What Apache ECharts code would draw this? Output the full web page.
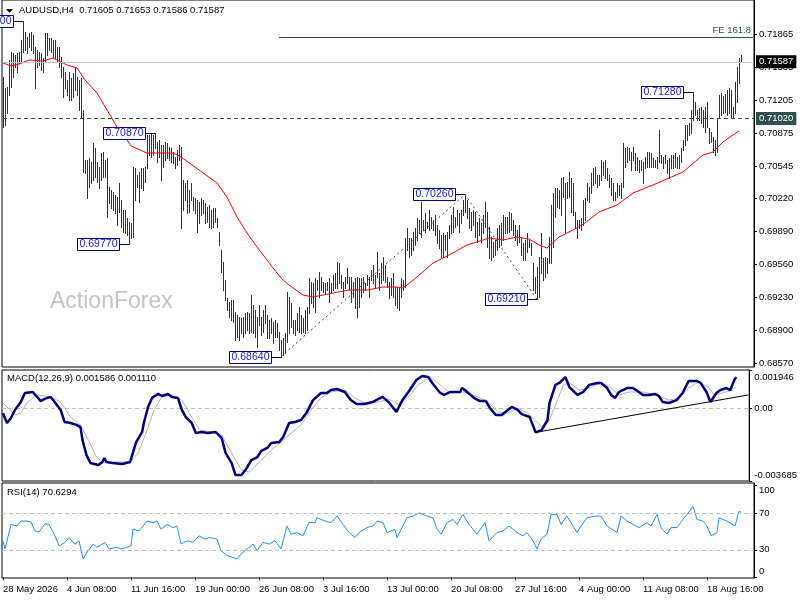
<!DOCTYPE html>
<html><head><meta charset="utf-8">
<script src="https://cdn.jsdelivr.net/npm/echarts@6/dist/echarts.min.js"></script>
<style>html,body{margin:0;padding:0;background:#fff}#c{width:800px;height:600px}</style>
</head><body><div id="c"></div>
<script>
const FONT = "'Liberation Sans', Arial, sans-serif";
const symbolTitle = 'AUDUSD,H4  0.71605 0.71653 0.71586 0.71587';
const macdTitle = 'MACD(12,26,9) 0.001586 0.001110';
const rsiTitle = 'RSI(14) 70.6294';
const watermark = 'ActionForex';
const dateLabels = ['28 May 2026','4 Jun 08:00','11 Jun 16:00','19 Jun 00:00','26 Jun 08:00','3 Jul 16:00','13 Jul 00:00','20 Jul 08:00','27 Jul 16:00','4 Aug 00:00','11 Aug 08:00','18 Aug 16:00'];
const barsPerLabel = 32;
const slotCount = 376;
const priceTicks = [0.68570,0.68900,0.69230,0.69560,0.69890,0.70220,0.70545,0.70875,0.71205,0.71535,0.71865];
const macdTicks = [0.001946, 0, -0.003685];
const rsiTicks = [0, 30, 70, 100];
const rsiLevels = [30, 70];

const high = [0.71435,0.71325,0.71335,0.71605,0.71685,0.71675,0.71655,0.71675,0.71685,0.71805,
0.72000,0.71885,0.71835,0.71875,0.71885,0.71855,0.71735,0.71705,0.71685,0.71675,
0.71625,0.71875,0.71875,0.71825,0.71825,0.71805,0.71805,0.71735,0.71735,0.71635,
0.71535,0.71485,0.71405,0.71485,0.71425,0.71475,0.71525,0.71435,0.71405,0.71425,
0.71105,0.70605,0.70605,0.70625,0.70585,0.70775,0.70725,0.70585,0.70535,0.70675,
0.70685,0.70605,0.70625,0.70335,0.70305,0.70285,0.70255,0.70235,0.70375,0.70205,
0.70105,0.70105,0.70025,0.69985,0.69975,0.70535,0.70525,0.70455,0.70485,0.70525,
0.70525,0.70535,0.70855,0.70855,0.70865,0.70855,0.70870,0.70785,0.70805,0.70755,
0.70755,0.70785,0.70775,0.70735,0.70725,0.70685,0.70635,0.70705,0.70755,0.70735,
0.70405,0.70375,0.70405,0.70305,0.70375,0.70235,0.70225,0.70205,0.70185,0.70225,
0.70205,0.70175,0.70135,0.70155,0.70105,0.70125,0.70125,0.70025,0.69885,0.69705,
0.69585,0.69405,0.69225,0.69185,0.69205,0.69205,0.69085,0.69055,0.69035,0.69025,
0.69035,0.69075,0.69085,0.69075,0.69255,0.69155,0.69105,0.69035,0.69155,0.69035,
0.69105,0.69155,0.69055,0.69005,0.69025,0.68985,0.69005,0.68975,0.68885,0.68805,
0.68825,0.68875,0.69285,0.69235,0.69175,0.69005,0.69005,0.69075,0.69135,0.69055,
0.69025,0.69105,0.69135,0.69425,0.69385,0.69375,0.69425,0.69405,0.69485,0.69435,
0.69385,0.69375,0.69385,0.69425,0.69375,0.69455,0.69475,0.69585,0.69575,0.69455,
0.69385,0.69435,0.69525,0.69435,0.69435,0.69385,0.69425,0.69435,0.69425,0.69425,
0.69435,0.69375,0.69455,0.69435,0.69505,0.69555,0.69455,0.69685,0.69475,0.69575,
0.69635,0.69555,0.69435,0.69385,0.69425,0.69475,0.69335,0.69335,0.69325,0.69425,
0.69405,0.69825,0.69925,0.69825,0.69825,0.69885,0.69925,0.70025,0.70005,0.70185,
0.70005,0.70075,0.69985,0.70105,0.70035,0.70005,0.70055,0.69955,0.69905,0.69855,
0.69875,0.69855,0.69885,0.69955,0.70055,0.70135,0.70035,0.70105,0.70075,0.70105,
0.70205,0.70260,0.70205,0.70125,0.70085,0.70105,0.70085,0.69985,0.70025,0.69975,
0.70055,0.70185,0.70085,0.69935,0.69835,0.69785,0.69805,0.69925,0.69955,0.69975,
0.70055,0.70035,0.70035,0.70085,0.70075,0.70005,0.69955,0.69905,0.69955,0.69825,
0.69775,0.69805,0.69875,0.69805,0.69775,0.69575,0.69435,0.69535,0.69635,0.69875,
0.69625,0.69635,0.69625,0.69835,0.70155,0.70275,0.70325,0.70325,0.70305,0.70425,
0.70435,0.70375,0.70385,0.70485,0.70425,0.70375,0.70085,0.70005,0.70005,0.70025,
0.70205,0.70225,0.70375,0.70335,0.70475,0.70525,0.70535,0.70455,0.70455,0.70605,
0.70585,0.70605,0.70525,0.70455,0.70425,0.70375,0.70285,0.70375,0.70355,0.70375,
0.70775,0.70725,0.70735,0.70725,0.70685,0.70735,0.70675,0.70635,0.70605,0.70605,
0.70585,0.70635,0.70685,0.70685,0.70675,0.70625,0.70605,0.70635,0.70905,0.70655,
0.70635,0.70655,0.70605,0.70625,0.70655,0.70655,0.70675,0.70635,0.70655,0.70725,
0.70805,0.70955,0.70955,0.70975,0.71105,0.71280,0.71185,0.71105,0.71125,0.71135,
0.71105,0.71135,0.71185,0.70925,0.70885,0.70835,0.70805,0.71025,0.71255,0.71275,
0.71245,0.71265,0.71305,0.71325,0.71305,0.71135,0.71385,0.71535,0.71625,0.71653];

const low = [0.70935,0.70955,0.71075,0.71255,0.71335,0.71435,0.71535,0.71485,0.71575,0.71585,
0.71685,0.71705,0.71675,0.71735,0.71705,0.71675,0.71325,0.71535,0.71555,0.71505,
0.71485,0.71585,0.71655,0.71705,0.71685,0.71635,0.71625,0.71585,0.71535,0.71435,
0.71235,0.71325,0.71255,0.71205,0.71205,0.71235,0.71305,0.71255,0.71105,0.71025,
0.70485,0.70475,0.70225,0.70335,0.70375,0.70405,0.70435,0.70385,0.70325,0.70405,
0.70435,0.70435,0.70035,0.70175,0.70125,0.70105,0.70075,0.69955,0.70085,0.69935,
0.69885,0.69875,0.69855,0.69770,0.69825,0.69835,0.70205,0.70335,0.70185,0.70325,
0.70305,0.70385,0.70525,0.70655,0.70635,0.70655,0.70725,0.70585,0.70635,0.70405,
0.70535,0.70605,0.70625,0.70605,0.70585,0.70575,0.70525,0.70555,0.70605,0.69925,
0.70105,0.70205,0.70075,0.70085,0.70205,0.70105,0.70075,0.69885,0.69975,0.70055,
0.70075,0.69975,0.69985,0.69935,0.69925,0.69935,0.69985,0.69935,0.69755,0.69485,
0.69305,0.69205,0.69105,0.69035,0.69005,0.68985,0.68805,0.68835,0.68805,0.68875,
0.68835,0.68875,0.68905,0.68875,0.68885,0.68875,0.68835,0.68735,0.68955,0.68855,
0.68885,0.68975,0.68825,0.68825,0.68875,0.68775,0.68835,0.68835,0.68705,0.68640,
0.68655,0.68675,0.68785,0.68875,0.68935,0.68875,0.68855,0.68905,0.68885,0.68875,
0.68885,0.68875,0.68905,0.69075,0.69175,0.69135,0.69085,0.69305,0.69235,0.69305,
0.69285,0.69275,0.69305,0.69185,0.69275,0.69305,0.69325,0.69325,0.69375,0.69325,
0.69235,0.69325,0.69375,0.69305,0.69185,0.69235,0.69125,0.69035,0.69135,0.69235,
0.69285,0.69305,0.69355,0.69235,0.69405,0.69375,0.69335,0.69435,0.69305,0.69375,
0.69405,0.69385,0.69335,0.69225,0.69255,0.69235,0.69155,0.69125,0.69105,0.69235,
0.69305,0.69335,0.69705,0.69635,0.69655,0.69705,0.69755,0.69805,0.69875,0.69835,
0.69905,0.69885,0.69925,0.69905,0.69925,0.69905,0.69855,0.69775,0.69725,0.69635,
0.69635,0.69705,0.69635,0.69825,0.69875,0.69885,0.69935,0.69955,0.69885,0.69975,
0.70055,0.70085,0.70025,0.69925,0.69905,0.69955,0.69835,0.69785,0.69855,0.69785,
0.69875,0.69935,0.69735,0.69625,0.69605,0.69635,0.69655,0.69705,0.69735,0.69755,
0.69805,0.69875,0.69875,0.69885,0.69905,0.69855,0.69805,0.69755,0.69785,0.69655,
0.69605,0.69605,0.69685,0.69735,0.69655,0.69305,0.69275,0.69210,0.69235,0.69475,
0.69405,0.69435,0.69475,0.69575,0.69575,0.69735,0.70035,0.70135,0.70125,0.70055,
0.70235,0.69885,0.70225,0.70235,0.70085,0.70055,0.69935,0.69825,0.69925,0.69905,
0.69955,0.70005,0.70205,0.70185,0.70275,0.70355,0.70375,0.70335,0.70355,0.70405,
0.70455,0.70425,0.70405,0.70335,0.70255,0.70205,0.70205,0.70235,0.70255,0.70225,
0.70335,0.70535,0.70585,0.70605,0.70505,0.70605,0.70505,0.70505,0.70485,0.70505,
0.70375,0.70525,0.70535,0.70535,0.70535,0.70535,0.70535,0.70525,0.70585,0.70575,
0.70525,0.70575,0.70475,0.70425,0.70525,0.70525,0.70535,0.70525,0.70525,0.70585,
0.70705,0.70755,0.70805,0.70855,0.70875,0.71005,0.71055,0.71005,0.71005,0.70975,
0.70935,0.70885,0.70935,0.70775,0.70785,0.70685,0.70655,0.70685,0.71025,0.71055,
0.71075,0.71085,0.71055,0.71075,0.71035,0.71025,0.71075,0.71185,0.71375,0.71586];

const ma = [[0,0.71575],[4,0.71545],[8,0.71565],[13,0.71605],[20,0.71595],[25,0.71625],[28,0.71595],[32,0.71555],[37,0.71525],[41,0.71405],[47,0.71275],[52,0.71105],[57,0.70935],[62,0.70805],[64,0.70745],[72,0.70675],[85,0.70675],[89,0.70635],[98,0.70505],[107,0.70375],[112,0.70235],[117,0.70035],[122,0.69875],[127,0.69735],[132,0.69605],[137,0.69475],[140,0.69405],[143,0.69355],[150,0.69255],[155,0.69235],[165,0.69275],[173,0.69305],[182,0.69305],[190,0.69335],[197,0.69335],[200,0.69325],[207,0.69435],[215,0.69575],[223,0.69655],[232,0.69755],[240,0.69805],[243,0.69825],[250,0.69805],[257,0.69835],[263,0.69815],[268,0.69755],[272,0.69725],[278,0.69835],[285,0.69905],[291,0.69975],[298,0.70085],[307,0.70155],[315,0.70275],[325,0.70355],[333,0.70425],[340,0.70485],[347,0.70605],[350,0.70655],[355,0.70685],[360,0.70785],[365,0.70855],[368,0.70895]];

const macd = [[0,-0.00025],[2,-0.00074],[4,-0.00049],[6,-0.00008],[9,0.00032],[11,0.00078],[15,0.00083],[16,0.00078],[19,0.00037],[21,0.00048],[24,0.00058],[26,0.00032],[29,-0.00008],[31,-0.00069],[34,-0.00074],[37,-0.00084],[39,-0.00095],[40,-0.00161],[42,-0.00237],[44,-0.00277],[46,-0.00282],[48,-0.00287],[50,-0.00272],[51,-0.00252],[52,-0.00272],[55,-0.00277],[60,-0.00282],[64,-0.00272],[65,-0.00237],[67,-0.00171],[70,-0.00120],[71,-0.00069],[73,0.00007],[75,0.00053],[78,0.00073],[80,0.00063],[83,0.00073],[85,0.00058],[88,0.00053],[90,-0.00008],[92,-0.00044],[95,-0.00074],[97,-0.00125],[100,-0.00120],[103,-0.00125],[107,-0.00120],[110,-0.00150],[112,-0.00226],[115,-0.00277],[117,-0.00338],[120,-0.00338],[122,-0.00313],[125,-0.00262],[128,-0.00247],[130,-0.00216],[133,-0.00201],[135,-0.00176],[139,-0.00171],[141,-0.00145],[144,-0.00074],[147,-0.00069],[150,-0.00059],[153,-0.00018],[156,0.00042],[160,0.00078],[163,0.00078],[165,0.00093],[168,0.00098],[172,0.00083],[175,0.00042],[178,0.00022],[182,0.00022],[186,0.00032],[189,0.00048],[191,0.00058],[194,0.00032],[198,-0.00018],[201,0.00042],[204,0.00083],[208,0.00144],[211,0.00164],[214,0.00159],[216,0.00129],[220,0.00078],[222,0.00068],[225,0.00083],[230,0.00083],[231,0.00103],[233,0.00088],[237,0.00053],[240,0.00037],[243,0.00037],[245,0.00002],[248,-0.00034],[251,-0.00034],[254,-0.00008],[256,0.00007],[259,-0.00008],[261,-0.00029],[265,-0.00044],[267,-0.00095],[268,-0.00122],[271,-0.00110],[274,-0.00059],[275,0.00027],[278,0.00119],[280,0.00129],[283,0.00159],[285,0.00108],[289,0.00068],[292,0.00083],[295,0.00119],[299,0.00129],[301,0.00129],[304,0.00103],[306,0.00068],[308,0.00053],[310,0.00083],[314,0.00103],[317,0.00103],[320,0.00083],[322,0.00068],[325,0.00068],[328,0.00073],[330,0.00063],[332,0.00032],[335,0.00027],[339,0.00042],[342,0.00078],[345,0.00139],[349,0.00139],[351,0.00129],[354,0.00083],[356,0.00032],[359,0.00078],[361,0.00093],[364,0.00103],[366,0.00093],[368,0.00144],[369,0.001586]];

const signal = [[0,0.00027],[6,-0.00034],[9,-0.00024],[12,0.00027],[17,0.00068],[24,0.00058],[29,0.00032],[34,-0.00044],[39,-0.00084],[43,-0.00161],[47,-0.00247],[50,-0.00272],[55,-0.00272],[64,-0.00272],[68,-0.00226],[72,-0.00125],[76,-0.00008],[80,0.00058],[85,0.00068],[90,0.00042],[95,-0.00044],[99,-0.00110],[105,-0.00120],[110,-0.00135],[115,-0.00226],[120,-0.00313],[124,-0.00323],[129,-0.00272],[135,-0.00211],[140,-0.00171],[145,-0.00125],[150,-0.00084],[155,-0.00008],[160,0.00053],[165,0.00083],[172,0.00093],[177,0.00053],[182,0.00027],[189,0.00032],[194,0.00048],[199,0.00022],[204,0.00058],[209,0.00119],[215,0.00159],[220,0.00119],[225,0.00078],[232,0.00083],[239,0.00058],[244,0.00032],[249,-0.00018],[254,-0.00024],[259,0.00002],[264,-0.00024],[269,-0.00074],[272,-0.00099],[275,-0.00059],[279,0.00042],[282,0.00119],[285,0.00129],[290,0.00093],[295,0.00103],[301,0.00129],[306,0.00103],[310,0.00068],[315,0.00083],[322,0.00083],[329,0.00068],[335,0.00042],[340,0.00053],[345,0.00103],[350,0.00134],[355,0.00108],[358,0.00068],[362,0.00078],[367,0.00093],[369,0.00111]];

const rsi = [[0,39.6],[1,30.9],[4,57.7],[7,55.9],[9,61.3],[12,61.3],[14,60.2],[16,50.5],[18,49.5],[21,58.5],[23,57.7],[26,45.2],[28,34.4],[31,38.1],[33,43.4],[36,36.2],[38,39.8],[40,20.1],[42,27.3],[45,36.2],[47,32.7],[51,38.1],[53,30.9],[57,32.7],[59,30.9],[62,32.7],[64,34.4],[65,52.4],[68,50.5],[72,61.3],[75,59.6],[77,61.3],[79,52.4],[82,57.7],[85,54.2],[87,55.9],[89,36.2],[92,39.8],[95,38.1],[98,45.2],[101,41.6],[103,43.4],[107,41.6],[109,29.0],[112,23.7],[117,20.1],[119,25.5],[122,30.9],[125,36.2],[127,29.0],[130,38.1],[133,36.2],[136,39.8],[139,30.9],[142,55.9],[144,47.0],[147,48.8],[150,45.2],[153,59.6],[156,59.6],[157,64.9],[161,61.3],[164,59.6],[167,66.7],[170,57.7],[173,48.8],[176,43.4],[178,48.8],[182,54.2],[185,55.9],[187,61.3],[190,59.6],[192,48.8],[196,52.4],[197,43.4],[198,45.2],[202,64.9],[205,66.7],[208,70.3],[212,66.7],[215,64.9],[217,52.4],[219,47.0],[222,59.6],[225,63.1],[227,57.7],[230,68.5],[233,57.7],[237,47.0],[241,59.6],[243,39.8],[247,48.8],[250,50.5],[253,55.9],[257,48.8],[260,45.2],[262,48.8],[265,39.8],[267,30.9],[269,41.6],[272,47.0],[274,68.5],[277,68.5],[279,57.7],[282,66.7],[284,59.6],[287,48.8],[289,55.9],[292,64.9],[296,66.7],[299,66.7],[302,55.9],[307,48.8],[309,66.7],[312,61.3],[315,57.7],[318,54.2],[322,59.6],[324,55.9],[327,68.5],[329,54.2],[332,47.0],[334,54.2],[337,54.2],[340,63.1],[342,68.5],[345,77.4],[347,63.1],[350,61.3],[352,55.9],[354,45.2],[357,48.8],[358,64.9],[362,61.3],[363,63.1],[366,55.9],[368,72.0],[369,70.63]];

const swingIdx = [10, 76, 63, 139, 231, 267, 345];
const swingPrice = [0.72000, 0.70870, 0.69770, 0.68640, 0.70260, 0.69210, 0.71280];
const zigzag = [[139,0.68640],[231,0.70260],[267,0.69210]];
const lastPrice = 0.71587;
const levelPrice = 0.71020;
const fePrice = 0.71835, feStart = 138, feText = 'FE 161.8';
const macdTrend = [[268,-0.00122],[375,0.00068]];

const cats = Array.from({length: slotCount}, (_, k) =>
  (k % barsPerLabel === 0 && k / barsPerLabel < dateLabels.length) ? dateLabels[k / barsPerLabel] : '');
const showCat = (i) => cats[i] !== '';

const chart = echarts.init(document.getElementById('c'), null, {renderer: 'canvas'});

function xAxisFor(gi, show) {
  return {
    type: 'category', gridIndex: gi, data: cats, boundaryGap: true,
    axisLine: {show: false},
    axisTick: show ? {show: true, alignWithLabel: true, interval: showCat, length: 3, lineStyle: {color: '#000'}} : {show: false},
    axisLabel: show ? {show: true, interval: showCat, align: 'left', color: '#000', fontSize: 9.5, fontFamily: FONT, margin: 6} : {show: false},
    splitLine: {show: false}
  };
}
const txt = {color: '#000', fontSize: 9.5, fontFamily: FONT};
const gridBase = {left: 2, right: 46, show: true, borderColor: '#000', borderWidth: 1, backgroundColor: 'transparent'};
const boxLabel = (text, bg) => ({show: true, position: 'end', distance: 2, formatter: text, backgroundColor: bg,
  color: '#fff', padding: [2, 3, 1, 3], fontSize: 9.5, fontFamily: FONT});

const option = {
  animation: false,
  backgroundColor: '#fff',
  grid: [
    Object.assign({top: 0, height: 367}, gridBase),
    Object.assign({top: 370, height: 111}, gridBase),
    Object.assign({top: 483, height: 95}, gridBase)
  ],
  xAxis: [xAxisFor(0, false), xAxisFor(1, false), xAxisFor(2, true)],
  yAxis: [
    {type: 'value', gridIndex: 0, position: 'right', min: 0.68535, max: 0.72205,
     axisLine: {show: true, lineStyle: {color: '#000'}},
     axisTick: {show: true, customValues: priceTicks, length: 3, lineStyle: {color: '#000'}},
     axisLabel: Object.assign({customValues: priceTicks, margin: 5, formatter: v => v.toFixed(5)}, txt),
     splitLine: {show: false}},
    {type: 'value', gridIndex: 1, position: 'right', min: macdTicks[2], max: macdTicks[0],
     axisLine: {show: true, lineStyle: {color: '#000'}},
     axisTick: {show: true, customValues: macdTicks, length: 3, lineStyle: {color: '#000'}},
     axisLabel: Object.assign({customValues: macdTicks, margin: 5,
       formatter: v => v === macdTicks[0] ? '{t|' + v.toFixed(6) + '}' : (v === macdTicks[2] ? '{b|' + v.toFixed(6) + '}' : '0.00'),
       rich: {t: Object.assign({padding: [14, 0, 0, 0]}, txt), b: Object.assign({padding: [0, 0, 12, 0]}, txt)}}, txt),
     splitLine: {show: false}},
    {type: 'value', gridIndex: 2, position: 'right', min: -0.75, max: 102.8,
     axisLine: {show: true, lineStyle: {color: '#000'}},
     axisTick: {show: true, customValues: rsiTicks, length: 3, lineStyle: {color: '#000'}},
     axisLabel: Object.assign({customValues: rsiTicks, margin: 5,
       formatter: v => v === 100 ? '{t|100}' : (v === 0 ? '{b|0}' : String(v)),
       rich: {t: Object.assign({padding: [9, 0, 0, 0]}, txt), b: Object.assign({padding: [0, 0, 12, 0]}, txt)}}, txt),
     splitLine: {show: false}}
  ],
  graphic: [
    {type: 'polygon', shape: {points: [[6, 9], [13, 9], [9.5, 13]]}, style: {fill: '#000'}, z: 100},
    {type: 'text', left: 19, top: 5, style: {text: symbolTitle, font: '9.5px ' + FONT, fill: '#000'}, z: 100},
    {type: 'text', left: 7, top: 373, style: {text: macdTitle, font: '9.5px ' + FONT, fill: '#000'}, z: 100},
    {type: 'text', left: 7, top: 487, style: {text: rsiTitle, font: '9.5px ' + FONT, fill: '#000'}, z: 100},
    {type: 'text', left: 50, top: 290, style: {text: watermark, font: '23px ' + FONT, fill: '#c4c4c4'}, z: 0}
  ],
  series: [
    {
      type: 'custom', name: 'bars', xAxisIndex: 0, yAxisIndex: 0,
      data: high.map((h, k) => [k, h, low[k]]),
      encode: {x: 0, y: [1, 2]},
      renderItem: (params, api) => {
        const a = api.coord([api.value(0), api.value(1)]);
        const b = api.coord([api.value(0), api.value(2)]);
        const x = Math.round(a[0]) + 0.5;
        return {type: 'line', shape: {x1: x, y1: Math.round(a[1]), x2: x, y2: Math.round(b[1]) + 1},
          style: {stroke: '#183b53', lineWidth: 1}};
      }
    },
    {type: 'line', name: 'MA', xAxisIndex: 0, yAxisIndex: 0, data: ma, symbol: 'none',
     lineStyle: {color: '#ff0000', width: 1}, z: 3,
     markLine: {
       symbol: ['none', 'none'], silent: true, animation: false,
       data: [
         [{coord: [0, lastPrice], lineStyle: {color: '#c0c0c0', type: 'solid', width: 1}, label: boxLabel(lastPrice.toFixed(5), '#000')},
          {coord: [slotCount - 1, lastPrice], x: 754}],
         [{coord: [0, levelPrice], lineStyle: {color: '#2f4f4f', type: [4, 3], width: 1}, label: boxLabel(levelPrice.toFixed(5), '#2f4f4f')},
          {coord: [slotCount - 1, levelPrice], x: 754}],
         [{coord: [feStart, fePrice], lineStyle: {color: '#2f4f4f', type: 'solid', width: 1},
           label: {show: true, position: 'insideEndTop', formatter: feText, color: '#2f4f4f', fontSize: 9.5, fontFamily: FONT, distance: 2}},
          {coord: [slotCount - 1, fePrice]}]
       ]
     }},
    {type: 'line', name: 'zigzag', xAxisIndex: 0, yAxisIndex: 0, data: zigzag, symbol: 'none',
     lineStyle: {color: '#3c4c4c', width: 1, type: [2, 3]}},
    {
      type: 'custom', name: 'swings', xAxisIndex: 0, yAxisIndex: 0,
      data: swingIdx.map((k, j) => [k, swingPrice[j]]),
      encode: {x: 0, y: 1}, z: 10,
      renderItem: (params, api) => {
        const p = api.coord([api.value(0), api.value(1)]);
        const px = Math.round(p[0]), py = Math.round(p[1]) + 0.5;
        const bw = 42, bh = 12, gap = 10;
        return {type: 'group', children: [
          {type: 'line', shape: {x1: px - gap, y1: py, x2: px, y2: py}, style: {stroke: '#000080', lineWidth: 1}},
          {type: 'rect', shape: {x: px - gap - bw + 0.5, y: py - bh / 2, width: bw, height: bh}, style: {fill: '#fff', stroke: '#000080', lineWidth: 1}},
          {type: 'text', x: px - gap - bw / 2 + 0.5, y: py, style: {text: api.value(1).toFixed(5), fill: '#1a1acc', font: '10.5px ' + FONT, align: 'center', verticalAlign: 'middle'}}
        ]};
      }
    },
    {type: 'line', name: 'MACD', xAxisIndex: 1, yAxisIndex: 1, data: macd, symbol: 'none',
     lineStyle: {color: '#000080', width: 2.5}, z: 5,
     markLine: {symbol: ['none', 'none'], silent: true, label: {show: false},
       data: [{yAxis: 0, lineStyle: {color: '#c0c0c0', type: [4, 3], width: 1}}]}},
    {type: 'line', name: 'Signal', xAxisIndex: 1, yAxisIndex: 1, data: signal, symbol: 'none',
     lineStyle: {color: '#b4b4b4', width: 1}, z: 4},
    {type: 'line', name: 'trend', xAxisIndex: 1, yAxisIndex: 1, data: macdTrend, symbol: 'none',
     lineStyle: {color: '#000', width: 1}, z: 6},
    {type: 'line', name: 'RSI', xAxisIndex: 2, yAxisIndex: 2, data: rsi, symbol: 'none',
     lineStyle: {color: '#1e90ff', width: 1},
     markLine: {symbol: ['none', 'none'], silent: true, label: {show: false},
       data: rsiLevels.map(v => ({yAxis: v, lineStyle: {color: '#c0c0c0', type: [4, 3], width: 1}}))}}
  ]
};
chart.setOption(option);
</script>
</body></html>
